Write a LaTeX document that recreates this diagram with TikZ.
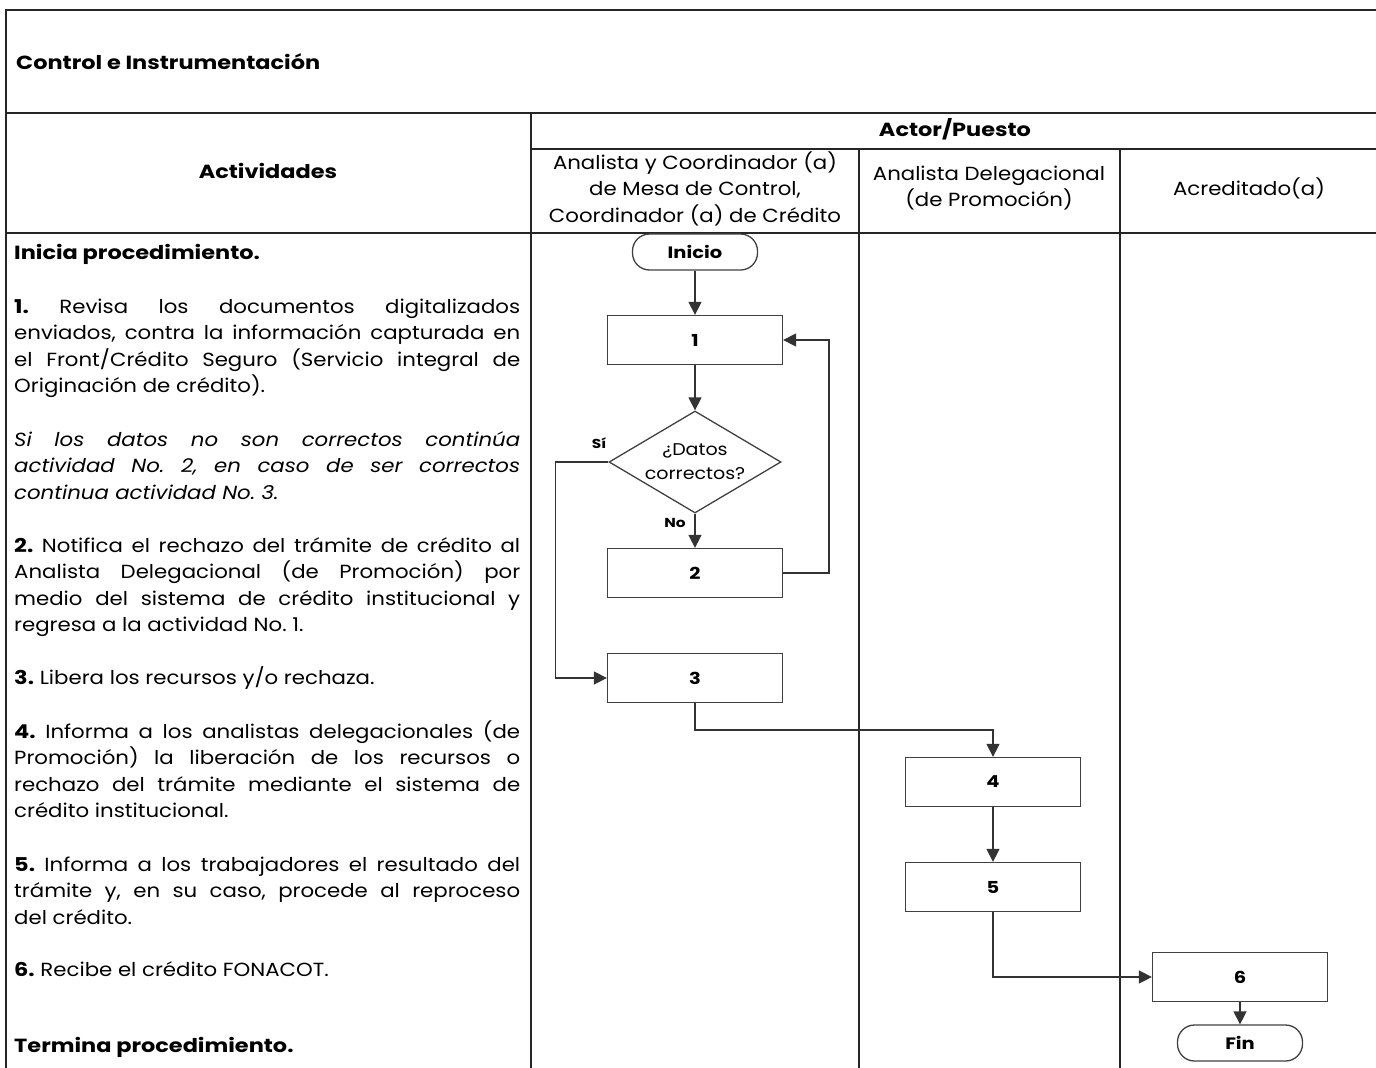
\documentclass[tikz,border=0pt]{standalone}
\usepackage{fontspec}
\setmainfont{Poppins}[FakeStretch=1.12, BoldFeatures={FakeStretch=1.18}]
\usetikzlibrary{arrows.meta,shapes.geometric}
\begin{document}
\frenchspacing
\begin{tikzpicture}[x=1pt,y=-1pt,
  grid/.style={line width=1.6pt, draw=black!85},
  procbox/.style={draw=black!75, line width=1.3pt, minimum width=175pt, minimum height=49pt, inner sep=0pt, font=\bfseries\fontsize{16.5}{18}\selectfont},
  termbox/.style={draw=black!75, line width=1.3pt, rounded corners=17pt, minimum width=125pt, minimum height=36pt, inner sep=0pt, font=\bfseries\fontsize{16.5}{18}\selectfont},
  decbox/.style={diamond, draw=black!75, line width=1.3pt, aspect=1.7, minimum width=172pt, minimum height=102pt, inner sep=0pt, align=center, font=\fontsize{17}{24}\selectfont},
  flow/.style={line width=1.4pt, draw=black!80, -{Triangle[length=13pt,width=13pt]}},
  para/.style={anchor=base west, inner sep=0pt, text width=506pt, align=justify, font=\fontsize{19}{26.5}\selectfont},
  head/.style={align=center, inner sep=0pt, font=\fontsize{19}{26.5}\selectfont},
  boldhead/.style={inner sep=0pt, font=\bfseries\fontsize{19}{22}\selectfont},
  flag/.style={inner sep=0pt, font=\bfseries\fontsize{13}{15}\selectfont},
]
\useasboundingbox (0,0) rectangle (1376,1068);

% table frame
\draw[grid] (1376,10) -- (6,10) -- (6,1068);
\draw[grid] (6,113) -- (1376,113);
\draw[grid] (531,149) -- (1376,149);
\draw[grid] (6,233) -- (1376,233);
\draw[grid] (531,113) -- (531,1068);
\draw[grid] (859,149) -- (859,1068);
\draw[grid] (1120,149) -- (1120,1068);

% headings
\node[boldhead, anchor=west] (title) at (16,62) {Control e Instrumentación};
\node[boldhead] (act) at (268,171) {Actividades};
\node[boldhead] (actor) at (955,129) {Actor/Puesto};
\node[head] (lane1) at (695,188.5) {Analista y Coordinador (a)\\de Mesa de Control,\\Coordinador (a) de Crédito};
\node[head] (lane2) at (989,188) {Analista Delegacional\\(de Promoción)};
\node[head] (lane3) at (1249,188) {Acreditado(a)};

% activity descriptions
\node[para] (p0) at (14,259) {\textbf{Inicia procedimiento.}};
\node[para] (p1) at (14,313) {\textbf{1.} Revisa los documentos digitalizados\linebreak enviados, contra la información capturada en\linebreak el Front/Crédito Seguro (Servicio integral de\linebreak Originación de crédito).};
\node[para] (p1b) at (14,446) {\itshape Si los datos no son correctos continúa\linebreak actividad No. 2, en caso de ser correctos\linebreak continua actividad No. 3.};
\node[para] (p2) at (14,552) {\textbf{2.} Notifica el rechazo del trámite de crédito al\linebreak Analista Delegacional (de Promoción) por\linebreak medio del sistema de crédito institucional y\linebreak regresa a la actividad No. 1.};
\node[para] (p3) at (14,684) {\textbf{3.} Libera los recursos y/o rechaza.};
\node[para] (p4) at (14,738) {\textbf{4.} Informa a los analistas delegacionales (de\linebreak Promoción) la liberación de los recursos o\linebreak rechazo del trámite mediante el sistema de\linebreak crédito institucional.};
\node[para] (p5) at (14,871) {\textbf{5.} Informa a los trabajadores el resultado del\linebreak trámite y, en su caso, procede al reproceso\linebreak del crédito.};
\node[para] (p6) at (14,976) {\textbf{6.} Recibe el crédito FONACOT.};
\node[para] (p7) at (14,1052) {\textbf{Termina procedimiento.}};

% flow chart
\node[termbox] (ini) at (695,252) {Inicio};
\node[procbox] (b1) at (695,340) {1};
\node[decbox] (dec) at (695,462) {¿Datos\\correctos?};
\node[procbox] (b2) at (695,573) {2};
\node[procbox] (b3) at (695,678) {3};
\node[procbox] (b4) at (993,782) {4};
\node[procbox] (b5) at (993,887) {5};
\node[procbox] (b6) at (1240,977) {6};
\node[termbox] (fin) at (1240,1043) {Fin};

\node[flag] (si) at (599,443) {Sí};
\node[flag] (no) at (675,523) {No};

\draw[flow] (ini) -- (b1);
\draw[flow] (b1) -- (dec);
\draw[flow] (dec) -- (b2);
\draw[flow] (b2.east) -- ++(46,0) |- (b1.east);
\draw[flow] (dec.west) -- ++(-53,0) |- (b3.west);
\draw[flow] (b3.south) -- ++(0,27) -| (b4.north);
\draw[flow] (b4) -- (b5);
\draw[flow] (b5.south) |- (b6.west);
\draw[flow] (b6) -- (fin);
\end{tikzpicture}
\end{document}
